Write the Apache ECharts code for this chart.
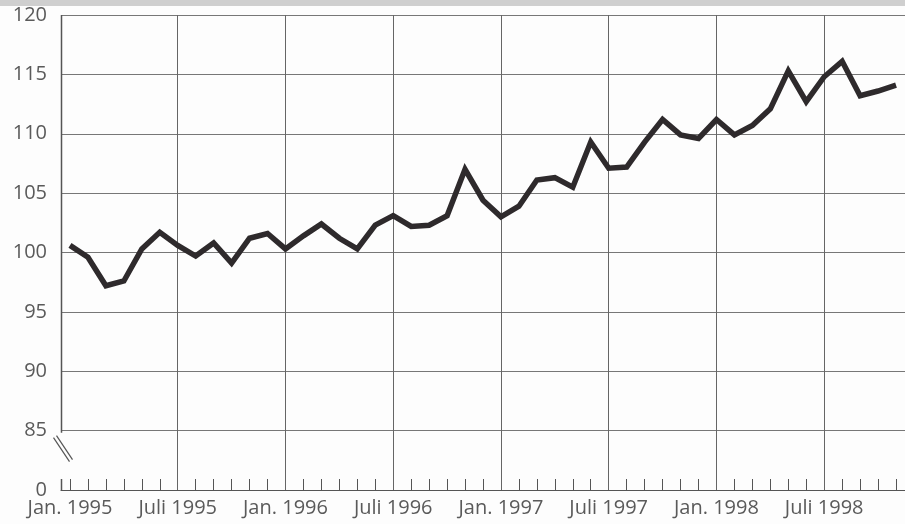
<!DOCTYPE html>
<html>
<head>
<meta charset="utf-8">
<script src="https://cdn.jsdelivr.net/npm/echarts@6/dist/echarts.min.js"></script>
<style>
html,body{margin:0;padding:0;background:#fdfdfd;}
#chart{width:905px;height:524px;}
</style>
</head>
<body>
<div id="chart"></div>
<script>
// Months Jan. 1995 .. Nov. 1998
const monthNames = ['Jan.', 'Feb.', 'März', 'Apr.', 'Mai', 'Juni', 'Juli', 'Aug.', 'Sep.', 'Okt.', 'Nov.', 'Dez.'];
const years = [1995, 1996, 1997, 1998];
const categories = [];
years.forEach(y => monthNames.forEach(m => categories.push(m + ' ' + y)));
categories.length = 47;

const values = [
  100.6, 99.6, 97.2, 97.6, 100.3, 101.7, 100.6, 99.7, 100.8, 99.1, 101.2, 101.6,
  100.3, 101.4, 102.4, 101.2, 100.3, 102.3, 103.1, 102.2, 102.3, 103.1, 107.0, 104.4,
  103.0, 103.9, 106.1, 106.3, 105.5, 109.3, 107.1, 107.2, 109.3, 111.2, 109.9, 109.6,
  111.2, 109.9, 110.7, 112.1, 115.3, 112.7, 114.8, 116.1, 113.2, 113.6, 114.1
];

const yTicks = [80, 85, 90, 95, 100, 105, 110, 115, 120]; // 80 is shown as "0" (axis break)
const yMin = 80, yMax = 120, yStep = 5, breakTop = 85;
const gridStepMonths = 6;

const chart = echarts.init(document.getElementById('chart'), null, {renderer: 'canvas'});
const textColor = '#5a5a5a';
const lineGrey = '#777';
const font = '"Open Sans", "DejaVu Sans", sans-serif';
const gridLeft = 61;

const vLines = [];
for (let i = gridStepMonths; i < categories.length; i += gridStepMonths) {
  vLines.push({xAxis: categories[i]});
}

chart.setOption({
  animation: false,
  backgroundColor: '#fdfdfd',
  grid: {left: gridLeft, top: 15, right: -4, bottom: 34, containLabel: false},
  xAxis: {
    type: 'category',
    data: categories,
    boundaryGap: true,
    axisLine: {show: true, lineStyle: {color: '#555', width: 1.2}},
    axisTick: {show: true, inside: true, alignWithLabel: true, interval: 0, length: 11, lineStyle: {color: '#555', width: 1}},
    axisLabel: {interval: gridStepMonths - 1, color: textColor, fontSize: 20, fontFamily: font, margin: 8},
    splitLine: {show: false}
  },
  yAxis: {
    type: 'value',
    min: yMin, max: yMax, interval: yStep,
    axisLine: {show: false},
    axisTick: {show: false},
    axisLabel: {
      color: textColor, fontSize: 20, fontFamily: font, margin: 14,
      formatter: v => (v === yMin ? '0' : String(v))
    },
    splitLine: {show: true, showMinLine: false, lineStyle: {color: lineGrey, width: 1}}
  },
  series: [{
    type: 'line',
    data: values,
    symbol: 'none',
    lineStyle: {color: '#2e2a2c', width: 5.5, join: 'miter', cap: 'butt'},
    z: 5,
    markLine: {
      silent: true,
      symbol: ['none', 'none'],
      label: {show: false},
      lineStyle: {color: '#666', width: 1, type: 'solid'},
      data: vLines,
      z: 1
    }
  }]
});

// Axis decorations: left axis segment (85..120), bottom stub and break marks
const yTop = chart.convertToPixel({yAxisIndex: 0}, yMax);
const yBreak = chart.convertToPixel({yAxisIndex: 0}, breakTop);
const yBase = chart.convertToPixel({yAxisIndex: 0}, yMin);
const x0 = gridLeft + 0.5;
chart.setOption({
  graphic: [
    {type: 'rect', shape: {x: 0, y: 0, width: 905, height: 6}, style: {fill: '#cfcfcf'}, silent: true},
    {type: 'line', shape: {x1: x0, y1: yTop, x2: x0, y2: yBreak + 2}, style: {stroke: '#555', lineWidth: 1.5}, silent: true},
    {type: 'line', shape: {x1: x0, y1: yBase - 11, x2: x0, y2: yBase}, style: {stroke: '#555', lineWidth: 1.5}, silent: true},
    {type: 'line', shape: {x1: x0 - 8, y1: yBreak + 7, x2: x0 + 8, y2: yBreak + 31}, style: {stroke: '#555', lineWidth: 1.2}, silent: true},
    {type: 'line', shape: {x1: x0 - 5, y1: yBreak + 5, x2: x0 + 11, y2: yBreak + 29}, style: {stroke: '#555', lineWidth: 1.2}, silent: true}
  ]
});
</script>
</body>
</html>
